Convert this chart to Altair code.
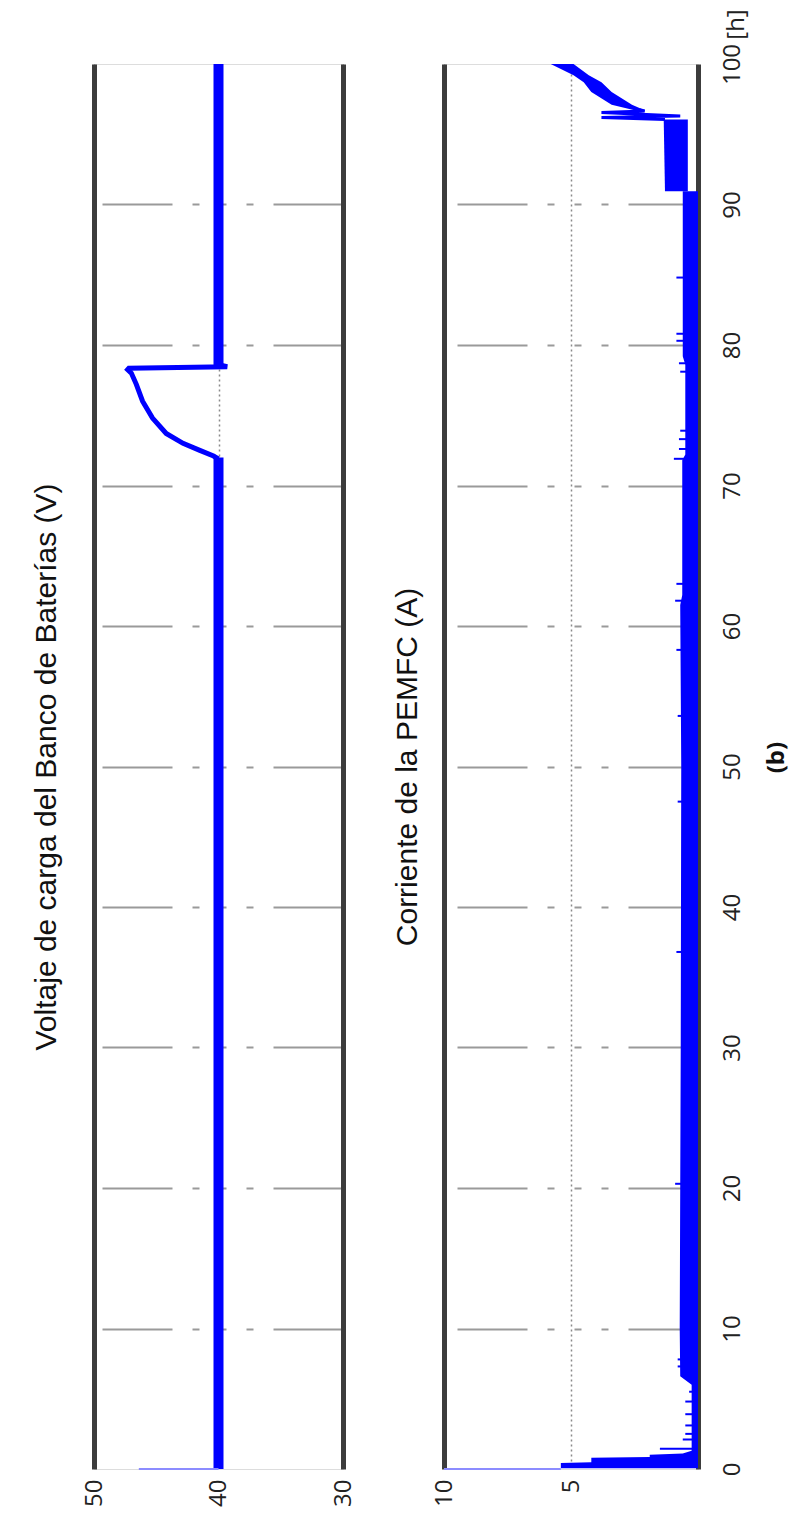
import altair as alt
import pandas as pd

# ---------------- shared time axis (hours) ----------------
T_TICKS = [0, 10, 20, 30, 40, 50, 60, 70, 80, 90, 100]
T_GRID = [10, 20, 30, 40, 50, 60, 70, 80, 90]

# ---------------- panel 1: battery bank charging voltage (V) ----------------
TITLE_1 = "Voltaje de carga del Banco de Baterías (V)"
V_TICKS = [50, 40, 30]
V_FLAT_T0 = [0.0, 78.55]
V_FLAT_T1 = [72.0, 100.0]
V_FLAT_V = [40.0, 40.0]
V_CURVE_T = [71.9, 72.1, 72.5, 73.0, 73.7, 74.8, 76.0, 77.2, 78.0, 78.25, 78.35, 78.45, 78.6]
V_CURVE_V = [40.0, 40.4, 41.5, 42.85, 44.2, 45.3, 46.1, 46.6, 47.0, 47.3, 47.2, 39.3, 40.0]
V_START_T = [0.0]
V_START_FROM = [46.4]
V_START_TO = [40.0]

# ---------------- panel 2: PEMFC current (A) ----------------
TITLE_2 = "Corriente de la PEMFC (A)"
I_TICKS = [10, 5]
I_BAND_SEG = ["a"] * 20 + ["b"] * 2 + ["c"] * 6
I_BAND_T = [0.05, 0.42, 0.48, 0.80, 0.86, 1.02, 1.10, 1.30, 6.0, 6.6, 10.0, 30.0, 50.0, 61.5,
            62.2, 71.8, 72.2, 78.6, 79.2, 90.95,
            90.95, 96.05,
            96.7, 97.1, 98.0, 98.7, 99.2, 100.0]
I_BAND_LO = [0.0] * 20 + [0.4, 0.4] + [2.1, 2.6, 3.4, 3.8, 4.3, 4.9]
I_BAND_HI = [5.4, 5.4, 4.2, 4.2, 1.9, 1.9, 0.6, 0.25, 0.25, 0.7, 0.72, 0.68, 0.66, 0.7,
             0.62, 0.62, 0.5, 0.5, 0.6, 0.6,
             1.3, 1.35,
             2.5, 3.4, 4.2, 4.5, 4.9, 5.8]
I_LINK_T = [96.05, 96.2, 96.3, 96.55, 96.65, 96.75]
I_LINK_V = [1.3, 3.8, 0.7, 3.8, 2.1, 2.3]
I_SPIKE_T = [1.45, 2.1, 2.5, 3.1, 3.9, 4.8, 5.5, 7.3, 7.8, 20.3, 36.8, 47.5, 53.6, 58.3,
             61.8, 63.0, 71.9, 72.6, 73.3, 73.9, 78.1, 78.7, 80.3, 80.8, 84.8]
I_SPIKE_V = [1.5, 0.6, 0.5, 0.5, 0.5, 0.5, 0.35, 0.8, 0.8, 0.9, 0.85, 0.8, 0.8, 0.85,
             0.9, 0.85, 0.95, 0.75, 0.75, 0.7, 0.7, 0.75, 0.85, 0.85, 0.85]
I_START_T = [0.0]
I_START_FROM = [10.0]
I_START_TO = [5.4]

# ---------------- styling ----------------
BLUE = "#0000ff"
LIGHT = "#8c8cff"
BORDER = "#3c3c3c"
GRIDC = "#9a9a9a"
TFONT = "Liberation Sans"
LFONT = "Open Sans"
GRID_DASH = [70, 20, 7, 20, 7, 20, 7, 20]
W1, W2, H = 249, 254, 1405

y_scale = alt.Scale(domain=[0, 100], nice=False, zero=False)
x1_scale = alt.Scale(domain=[30, 50], reverse=True, nice=False, zero=False)
x2_scale = alt.Scale(domain=[0, 10], reverse=True, nice=False, zero=False)


def left_axis(title, pad):
    return alt.Axis(orient="left", title=title, values=T_GRID, labels=False, ticks=False,
                    grid=True, gridColor=GRIDC, gridWidth=2, gridDash=GRID_DASH,
                    domain=True, domainColor=BORDER, domainWidth=5,
                    titleFont=TFONT, titleFontSize=30, titleFontWeight="normal",
                    titleColor="#111111", titlePadding=pad)


def value_axis(vals):
    return alt.Axis(orient="bottom", values=vals, title=None, labelAngle=270,
                    labelAlign="right", labelBaseline="middle", labelPadding=10,
                    labelFont=LFONT, labelFontSize=24, labelColor="#222222",
                    labelFlush=False, ticks=False, domain=False, grid=True,
                    gridColor="#8a8a8a", gridWidth=1.5, gridDash=[2, 3])


right_axis_1 = alt.Axis(orient="right", title=None, labels=False, ticks=False, grid=False,
                        domain=True, domainColor=BORDER, domainWidth=5)
right_axis_2 = alt.Axis(orient="right", values=T_TICKS, title="[h]", titleAngle=270,
                        titleX=38, titleY=-40, titleAlign="center", titleBaseline="middle",
                        titleFont=LFONT, titleFontSize=24, titleFontWeight="normal",
                        titleColor="#222222", labelAngle=270, labelAlign="center",
                        labelBaseline="top", labelPadding=22, labelFont=LFONT,
                        labelFontSize=24, labelColor="#222222", labelOverlap=False,
                        ticks=False, grid=False, domain=True, domainColor=BORDER,
                        domainWidth=5)

# ---------------- data frames ----------------
df_flat1 = pd.DataFrame({"t0": V_FLAT_T0, "t1": V_FLAT_T1, "v": V_FLAT_V})
df_curve1 = pd.DataFrame({"t": V_CURVE_T, "v": V_CURVE_V})
df_start1 = pd.DataFrame({"t": V_START_T, "v0": V_START_FROM, "v1": V_START_TO})
df_anchor = pd.DataFrame({"a": [0]})

df_band = pd.DataFrame({"seg": I_BAND_SEG, "t": I_BAND_T, "lo": I_BAND_LO, "hi": I_BAND_HI})
df_link = pd.DataFrame({"t": I_LINK_T, "v": I_LINK_V})
df_spike = pd.DataFrame({"t": I_SPIKE_T, "v": I_SPIKE_V, "base": [0.0] * len(I_SPIKE_T)})
df_start2 = pd.DataFrame({"t": I_START_T, "v0": I_START_FROM, "v1": I_START_TO})

# ---------------- panel 1 ----------------
flat1 = alt.Chart(df_flat1).mark_rule(color=BLUE, strokeWidth=10).encode(
    x=alt.X("v:Q", scale=x1_scale, axis=value_axis(V_TICKS)),
    y=alt.Y("t0:Q", scale=y_scale, axis=left_axis(TITLE_1, 33)),
    y2="t1:Q",
)
curve1 = alt.Chart(df_curve1).mark_line(color=BLUE, strokeWidth=5).encode(
    x=alt.X("v:Q", scale=x1_scale),
    y=alt.Y("t:Q", scale=y_scale, axis=right_axis_1),
    order="t:Q",
)
start1 = alt.Chart(df_start1).mark_rule(color=LIGHT, strokeWidth=2).encode(
    x=alt.X("v0:Q", scale=x1_scale), x2="v1:Q",
    y=alt.Y("t:Q", scale=y_scale, axis=None),
)
anchor = alt.Chart(df_anchor).mark_rule(opacity=0).encode(
    x=alt.value(-85), x2=alt.value(-85), y=alt.value(-54), y2=alt.value(-54)
)
panel1 = alt.layer(flat1, curve1, start1, anchor).resolve_axis(y="independent").properties(
    width=W1, height=H)

# ---------------- panel 2 ----------------
band2 = alt.Chart(df_band).mark_area(color=BLUE, orient="horizontal", clip=True).encode(
    x=alt.X("lo:Q", scale=x2_scale, axis=value_axis(I_TICKS)), x2="hi:Q",
    y=alt.Y("t:Q", scale=y_scale, axis=left_axis(TITLE_2, 22)),
    detail="seg:N",
)
link2 = alt.Chart(df_link).mark_line(color=BLUE, strokeWidth=3).encode(
    x=alt.X("v:Q", scale=x2_scale),
    y=alt.Y("t:Q", scale=y_scale, axis=None),
    order="t:Q",
)
spike2 = alt.Chart(df_spike).mark_rule(color=BLUE, strokeWidth=2).encode(
    x=alt.X("base:Q", scale=x2_scale), x2="v:Q",
    y=alt.Y("t:Q", scale=y_scale, axis=right_axis_2),
)
start2 = alt.Chart(df_start2).mark_rule(color=LIGHT, strokeWidth=2).encode(
    x=alt.X("v0:Q", scale=x2_scale), x2="v1:Q",
    y=alt.Y("t:Q", scale=y_scale, axis=None),
)
panel2 = alt.layer(band2, link2, spike2, start2).resolve_axis(y="independent").properties(
    width=W2, height=H)

chart = alt.hconcat(panel1, panel2, spacing=101, bounds="flush").properties(
    padding=0,
    title=alt.TitleParams(text="(b)", orient="right", angle=270, anchor="middle",
                          baseline="top", font=LFONT, fontSize=24, fontWeight="bold",
                          color="#111111", offset=-8),
).configure_view(stroke=GRIDC, strokeWidth=2).configure(background="white")

chart.save("out.html", embed_options={"renderer": "svg", "actions": False})
